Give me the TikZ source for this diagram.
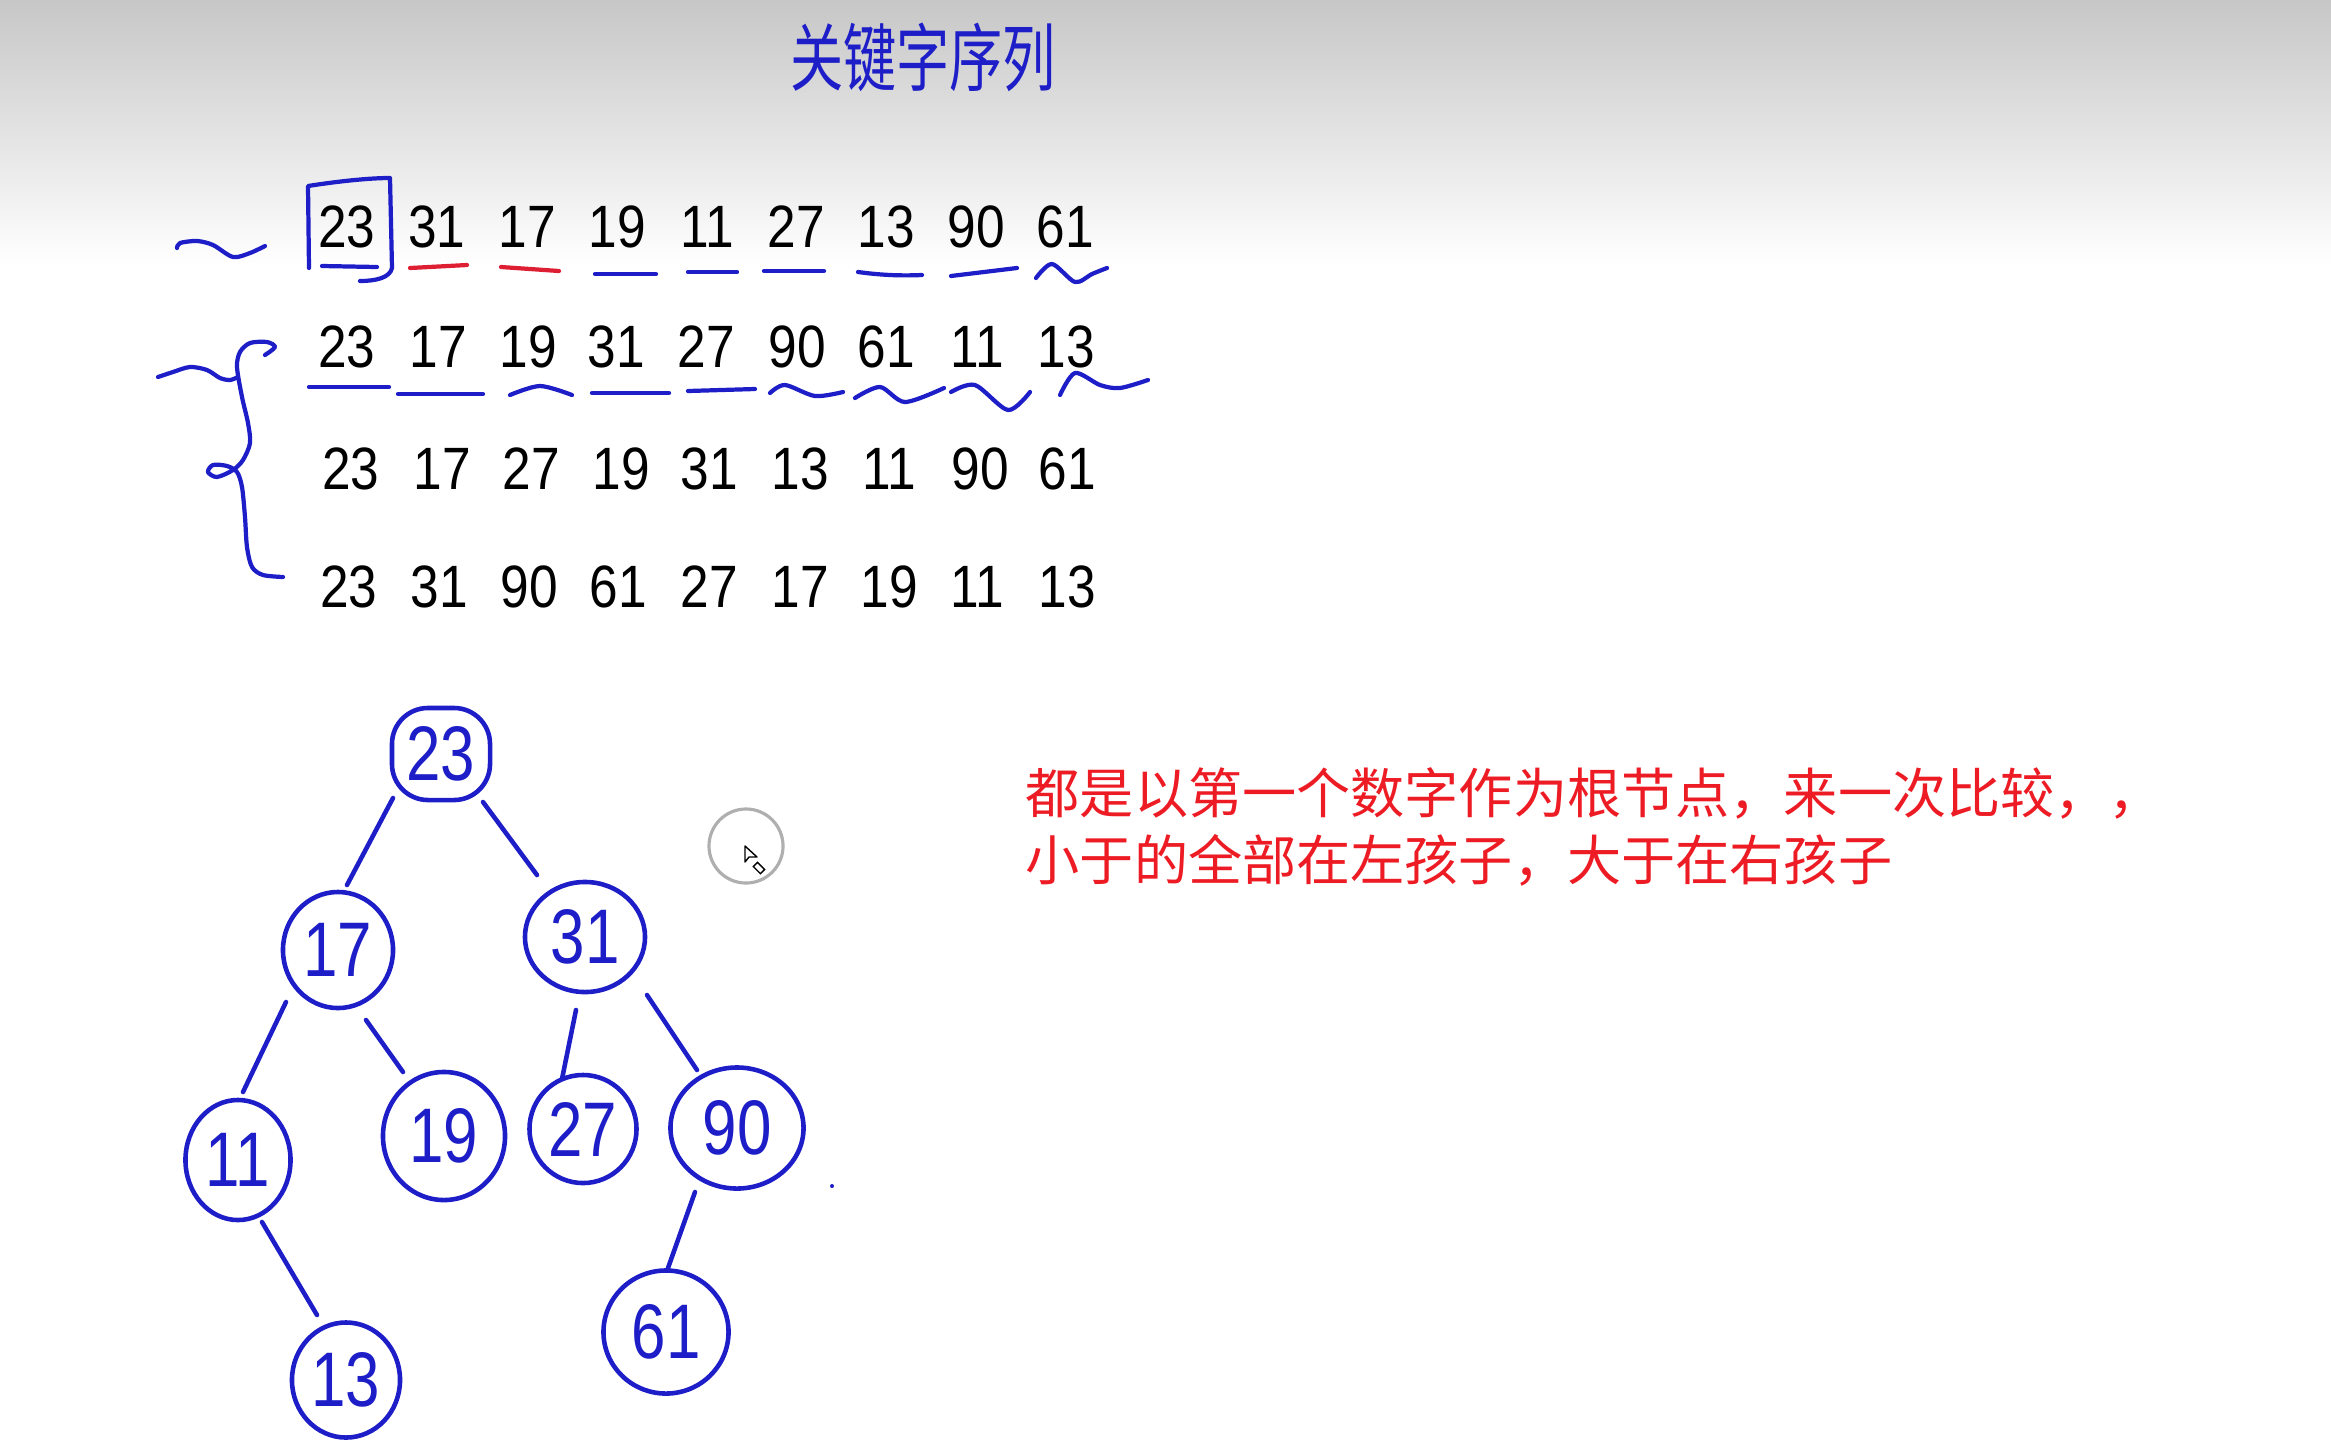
\documentclass[tikz,border=0pt]{standalone}
\usepackage{fontspec}
\usepackage{tikz}
\usetikzlibrary{shapes.geometric,calc}
\newfontfamily\numfont[FakeStretch=0.86]{Liberation Sans}
\newfontfamily\handfont[FakeStretch=0.8]{Liberation Sans}
\newfontfamily\cjkfont{Noto Sans CJK SC}
\newfontfamily\titlefont[FakeStretch=0.72]{Noto Sans CJK SC}
\definecolor{penblue}   {RGB}{30,30,200}
\definecolor{penred}    {RGB}{222,30,50}
\definecolor{notered}   {RGB}{237,28,36}
\definecolor{cursorgray}{RGB}{175,175,175}

\begin{document}
\begin{tikzpicture}[
  x=0.01cm, y=-0.01cm,
  numtxt/.style={font=\numfont\fontsize{17pt}{17pt}\selectfont, inner sep=0pt},
  treenode/.style={ellipse, draw=penblue, line width=1.3pt, inner sep=0pt,
    text=penblue, font=\handfont\fontsize{22pt}{22pt}\selectfont},
  rootbox/.style={rectangle, rounded corners=0.36cm, draw=penblue,
    line width=1.3pt, inner sep=0pt, text=penblue,
    font=\handfont\fontsize{22pt}{22pt}\selectfont},
  branch/.style={draw=penblue, line width=1.3pt, line cap=round},
  penline/.style={penblue, line width=1.2pt, line cap=round, line join=round},
  redline/.style={penred, line width=1.2pt, line cap=round},
]
\useasboundingbox (0,0) rectangle (2331,1451);
\fill[white] (0,0) rectangle (2331,1451);
\shade[top color=black!22, bottom color=white] (0,0) rectangle (2331,265);

% Title (handwritten)
\node[text=penblue, font=\titlefont\fontsize{21pt}{21pt}\selectfont]
  (title) at (923,57) {关键字序列};

% Key sequence and its orderings
\node[numtxt] (r1c1) at (347,227) {23};
\node[numtxt] (r1c2) at (437,227) {31};
\node[numtxt] (r1c3) at (527,227) {17};
\node[numtxt] (r1c4) at (617,227) {19};
\node[numtxt] (r1c5) at (707,227) {11};
\node[numtxt] (r1c6) at (796,227) {27};
\node[numtxt] (r1c7) at (886,227) {13};
\node[numtxt] (r1c8) at (976,227) {90};
\node[numtxt] (r1c9) at (1065,227) {61};

\node[numtxt] (r2c1) at (347,347) {23};
\node[numtxt] (r2c2) at (438,347) {17};
\node[numtxt] (r2c3) at (528,347) {19};
\node[numtxt] (r2c4) at (616,347) {31};
\node[numtxt] (r2c5) at (706,347) {27};
\node[numtxt] (r2c6) at (797,347) {90};
\node[numtxt] (r2c7) at (886,347) {61};
\node[numtxt] (r2c8) at (977,347) {11};
\node[numtxt] (r2c9) at (1066,347) {13};

\node[numtxt] (r3c1) at (351,469) {23};
\node[numtxt] (r3c2) at (442,469) {17};
\node[numtxt] (r3c3) at (531,469) {27};
\node[numtxt] (r3c4) at (621,469) {19};
\node[numtxt] (r3c5) at (709,469) {31};
\node[numtxt] (r3c6) at (800,469) {13};
\node[numtxt] (r3c7) at (889,469) {11};
\node[numtxt] (r3c8) at (980,469) {90};
\node[numtxt] (r3c9) at (1067,469) {61};

\node[numtxt] (r4c1) at (349,587) {23};
\node[numtxt] (r4c2) at (439,587) {31};
\node[numtxt] (r4c3) at (529,587) {90};
\node[numtxt] (r4c4) at (618,587) {61};
\node[numtxt] (r4c5) at (709,587) {27};
\node[numtxt] (r4c6) at (800,587) {17};
\node[numtxt] (r4c7) at (889,587) {19};
\node[numtxt] (r4c8) at (977,587) {11};
\node[numtxt] (r4c9) at (1067,587) {13};

% Pen marks on row 1
\draw[penline] plot[smooth] coordinates {(177,248) (180,243) (197,241) (213,245) (233,257) (250,253) (265,246)};
\draw[penline] (309,268) -- (308,186) .. controls (340,181) and (370,178) .. (390,178)
  -- (392,268) .. controls (390,278) and (375,281) .. (360,281);
\draw[penline] (322,266) -- (377,267);
\draw[redline] (410,268) -- (467,265);
\draw[redline] (501,267) -- (559,271);
\draw[penline] (595,274) -- (656,274);
\draw[penline] (688,272) -- (737,272);
\draw[penline] (764,271) -- (824,271);
\draw[penline] (858,272) .. controls (880,275) and (900,276) .. (922,275);
\draw[penline] (951,276) -- (1017,268);
\draw[penline] plot[smooth] coordinates {(1036,278) (1052,264) (1075,282) (1092,274) (1107,268)};

% Pen marks on row 2
\draw[penline] plot[smooth] coordinates {(158,377) (173,372) (190,367) (207,370) (220,378) (230,380) (238,377)};
\draw[penline] plot[smooth] coordinates {(265,355) (275,347) (267,342) (250,343) (240,352) (237,367)
  (242,397) (248,423) (250,443) (243,460) (233,470) (217,477) (208,472) (213,465) (227,466)
  (237,472) (242,487) (245,517) (247,547) (252,567) (263,575) (283,577)};
\draw[penline] (309,387) -- (389,387);
\draw[penline] (398,394) -- (483,394);
\draw[penline] plot[smooth] coordinates {(510,395) (540,386) (572,395)};
\draw[penline] (592,393) -- (669,393);
\draw[penline] (688,391) -- (755,389);
\draw[penline] plot[smooth] coordinates {(770,393) (785,385) (815,396) (843,392)};
\draw[penline] plot[smooth] coordinates {(855,398) (880,387) (905,402) (944,388)};
\draw[penline] plot[smooth] coordinates {(951,392) (975,385) (1008,410) (1030,392)};
\draw[penline] plot[smooth] coordinates {(1060,395) (1075,373) (1100,385) (1120,388) (1148,380)};

% Search tree
\node[rootbox,  minimum width=0.98cm, minimum height=0.92cm] (n23) at (441,754)  {23};
\node[treenode, minimum width=1.10cm, minimum height=1.16cm] (n17) at (338,950)  {17};
\node[treenode, minimum width=1.20cm, minimum height=1.10cm] (n31) at (585,937)  {31};
\node[treenode, minimum width=1.05cm, minimum height=1.20cm] (n11) at (238,1160) {11};
\node[treenode, minimum width=1.22cm, minimum height=1.28cm] (n19) at (444,1136) {19};
\node[treenode, minimum width=1.07cm, minimum height=1.08cm] (n27) at (583,1129) {27};
\node[treenode, minimum width=1.33cm, minimum height=1.21cm] (n90) at (737,1128) {90};
\node[treenode, minimum width=1.08cm, minimum height=1.15cm] (n13) at (346,1380) {13};
\node[treenode, minimum width=1.25cm, minimum height=1.23cm] (n61) at (666,1332) {61};

\draw[branch] ($(n23)+(-48,44)$) -- ($(n17)+(9,-65)$);
\draw[branch] ($(n23)+(42,48)$)  -- ($(n31)+(-48,-62)$);
\draw[branch] ($(n17)+(-52,52)$) -- ($(n11)+(5,-68)$);
\draw[branch] ($(n17)+(28,70)$)  -- ($(n19)+(-41,-64)$);
\draw[branch] ($(n31)+(-9,73)$)  -- ($(n27)+(-21,-50)$);
\draw[branch] ($(n31)+(62,58)$)  -- ($(n90)+(-40,-58)$);
\draw[branch] ($(n11)+(24,62)$)  -- ($(n13)+(-29,-65)$);
\draw[branch] ($(n90)+(-42,64)$) -- ($(n61)+(2,-64)$);
\fill[penblue] (832,1186) circle (0.02cm);

% Cursor
\draw[cursorgray, line width=0.9pt] (746,846) circle (0.37cm);
\draw[black, line width=0.4pt, line join=round] (745,846) -- (745,862) -- (749,857) -- (757,857) -- cycle;
\draw[black, line width=0.4pt, rotate around={-45:(759,868)}] (754,865) rectangle (764,871);

% Note
\node[anchor=west, align=left, text=notered, font=\cjkfont\fontsize{15.4pt}{19pt}\selectfont,
      inner sep=0pt] (note) at (1025,827)
  {都是以第一个数字作为根节点，来一次比较，，\\小于的全部在左孩子，大于在右孩子};
\end{tikzpicture}
\end{document}
